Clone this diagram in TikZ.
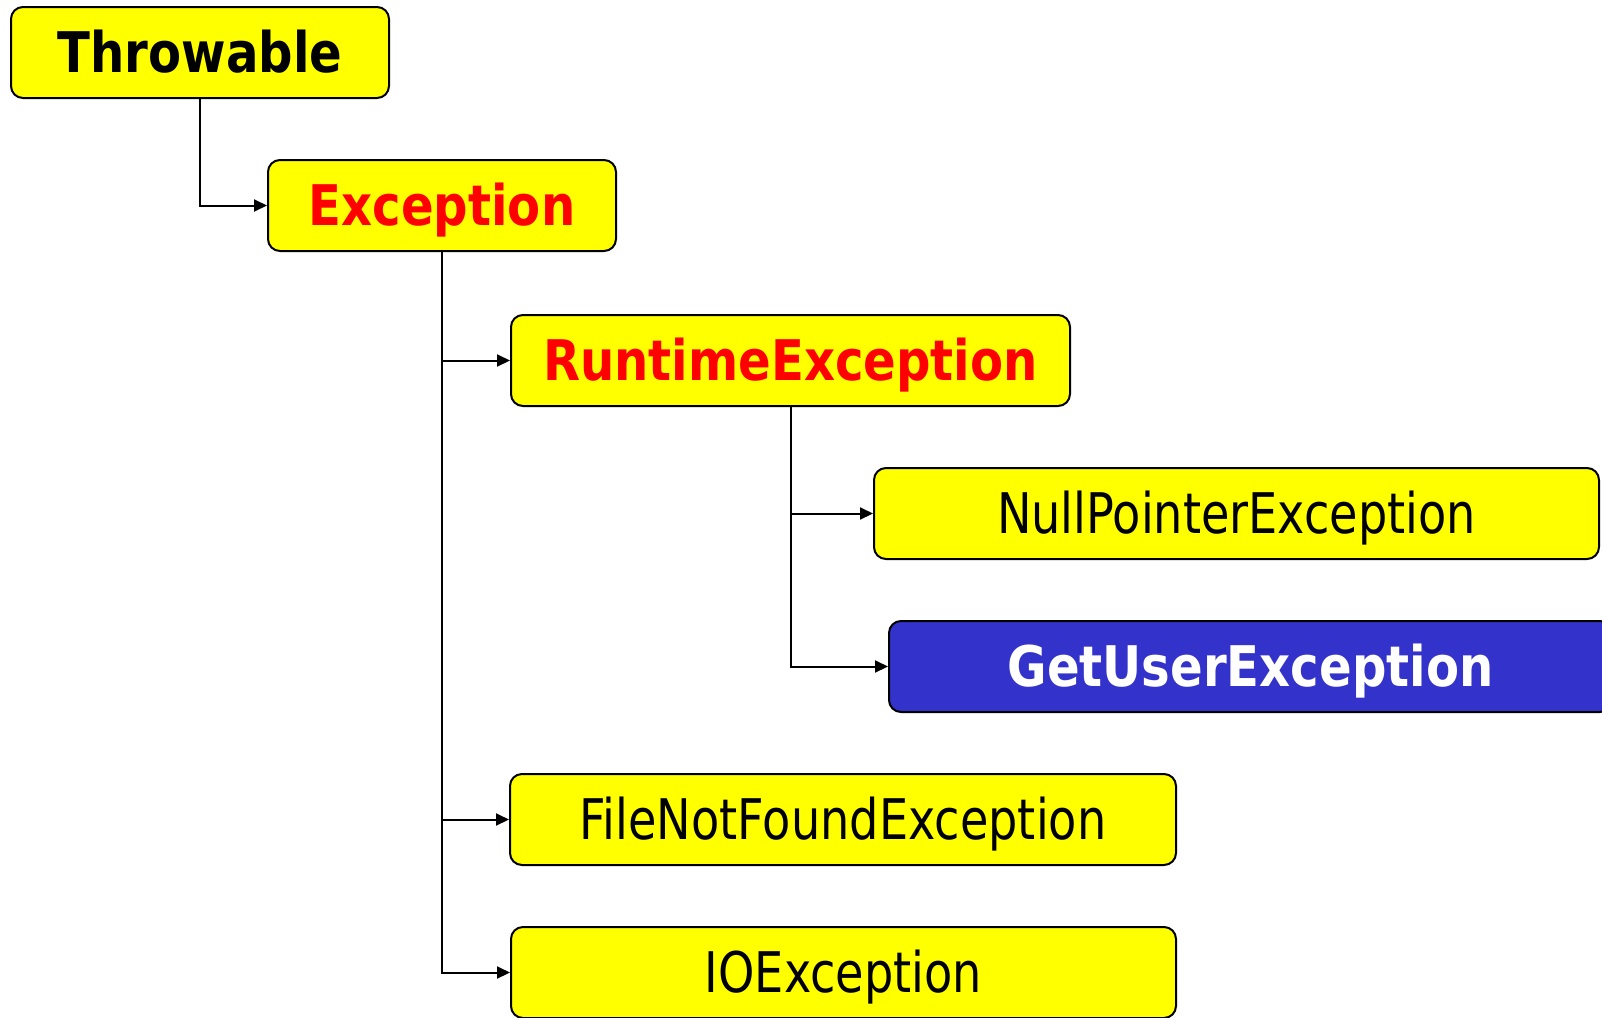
\documentclass[tikz,border=0pt]{standalone}
\usepackage{fontspec}
\setmainfont{DejaVu Sans}
\newfontfamily\regfam{DejaVu Sans}[FakeStretch=0.825]
\newfontfamily\boldfam{DejaVu Sans}[FakeStretch=0.86]
\usetikzlibrary{arrows.meta}
\definecolor{boxyellow}{HTML}{FFFF00}
\definecolor{boxred}{HTML}{FF0000}
\definecolor{boxblue}{HTML}{3333CC}
\begin{document}
\begin{tikzpicture}[x=1pt,y=-1pt,
  box/.style={draw=black, line width=2pt, rounded corners=12pt, fill=boxyellow,
    inner sep=0pt, minimum height=91pt, text height=40pt, text depth=0pt},
  regtext/.style={font=\regfam\fontsize{56}{60}\selectfont, text=black},
  boldtext/.style={font=\boldfam\bfseries\fontsize{56}{60}\selectfont},
  conn/.style={draw=black, line width=2pt, -{Triangle[length=13pt,width=12pt]}}]
\path[use as bounding box] (0,0) rectangle (1602,1017);
\clip (0,0) rectangle (1602,1017);
\node[box, boldtext, text=black, minimum width=378pt] (thr) at (200,52.5) {Throwable};
\node[box, boldtext, text=boxred, minimum width=348pt] (exc) at (442,205.5) {Exception};
\node[box, boldtext, text=boxred, minimum width=559pt] (rt) at (790.5,360.5) {RuntimeException};
\node[box, regtext, minimum width=725pt] (npe) at (1236.5,513.5) {NullPointerException};
\node[box, boldtext, fill=boxblue, text=white, minimum width=723pt] (gue) at (1250.5,666.5) {GetUserException};
\node[box, regtext, minimum width=666pt] (fnf) at (843,819.5) {FileNotFoundException};
\node[box, regtext, minimum width=665pt] (io) at (843.5,972.5) {IOException};
\draw[conn] (thr.south) |- (exc.west);
\draw[conn] (exc.south) |- (rt.west);
\draw[conn] (exc.south) |- (fnf.west);
\draw[conn] (exc.south) |- (io.west);
\draw[conn] (rt.south) |- (npe.west);
\draw[conn] (rt.south) |- (gue.west);
\end{tikzpicture}
\end{document}
